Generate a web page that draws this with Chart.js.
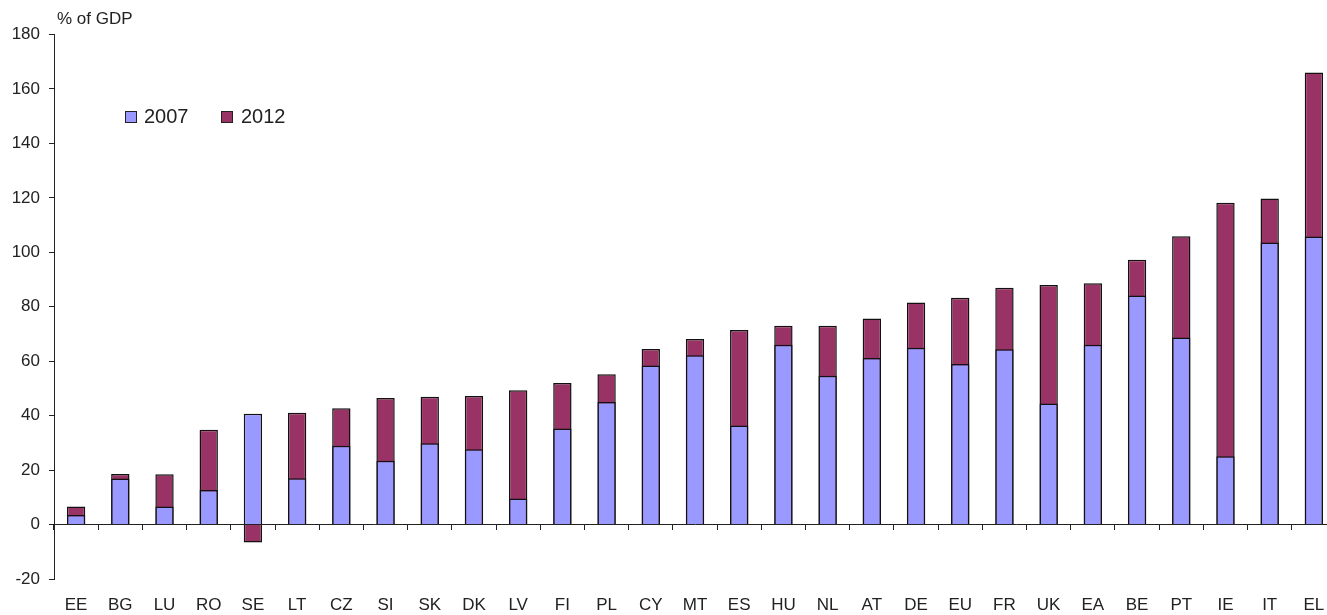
<!DOCTYPE html>
<html>
<head>
<meta charset="utf-8">
<script src="https://cdn.jsdelivr.net/npm/chart.js@4.4.1/dist/chart.umd.min.js"></script>
<style>
    html, body { margin: 0; padding: 0; background: #fff; overflow: hidden; }
    #wrap { position: relative; width: 1336px; height: 615px; }
    .lg-box { position: absolute; width: 10px; height: 10px; border: 1px solid #222; }
    .lg-text { position: absolute; font: 20px "Liberation Sans", Arial, sans-serif; color: #222; line-height: 20px; }
</style>
</head>
<body>
<div id="wrap">
    <canvas id="debtChart"></canvas>
    <div class="lg-box" style="left:125px; top:111px; background:#9999ff;"></div>
    <div class="lg-text" style="left:144px; top:106px;">2007</div>
    <div class="lg-box" style="left:221px; top:111px; background:#993366;"></div>
    <div class="lg-text" style="left:241px; top:106px;">2012</div>
</div>
<script>
// --- DATA ---
const countries = ['EE', 'BG', 'LU', 'RO', 'SE', 'LT', 'CZ', 'SI', 'SK', 'DK', 'LV', 'FI', 'PL', 'CY', 'MT',
    'ES', 'HU', 'NL', 'AT', 'DE', 'EU', 'FR', 'UK', 'EA', 'BE', 'PT', 'IE', 'IT', 'EL'];
const debt2007 = [3.5, 16.9, 6.6, 12.7, 40.7, 17.0, 28.9, 23.4, 29.9, 27.7, 9.6, 35.3, 45.0, 58.4, 62.2,
    36.4, 66.0, 54.7, 61.2, 64.9, 59.0, 64.4, 44.5, 66.0, 84.1, 68.7, 25.1, 103.6, 105.8];
const debt2012 = [6.6, 18.6, 18.5, 34.8, -6.6, 41.1, 42.7, 46.5, 46.9, 47.2, 49.3, 52.0, 55.2, 64.5, 68.2,
    71.5, 73.0, 73.0, 75.7, 81.6, 83.3, 87.0, 88.0, 88.6, 97.3, 105.9, 118.2, 119.8, 166.0];
const yTicks = { min: -20, max: 180, step: 20 };
const unitLabel = '% of GDP';

const FONT = '"Liberation Sans", Arial, sans-serif';
const INK = '#222';

// draws the unit label above the y axis
const unitLabelPlugin = {
    id: 'unitLabel',
    afterDraw(chart) {
        const ctx = chart.ctx;
        ctx.save();
        ctx.font = '17px ' + FONT;
        ctx.fillStyle = INK;
        ctx.textBaseline = 'alphabetic';
        ctx.fillText(unitLabel, chart.chartArea.left + 3, 24);
        ctx.restore();
    }
};

const ctx = document.getElementById('debtChart').getContext('2d');
new Chart(ctx, {
    type: 'bar',
    data: {
        labels: countries,
        datasets: [
            {
                label: '2007', data: debt2007, order: 0,
                backgroundColor: '#9999ff', borderColor: '#111', borderWidth: 1.5,
                grouped: false, barPercentage: 0.415, categoryPercentage: 1
            },
            {
                label: '2012', data: debt2012, order: 1,
                backgroundColor: '#993366', borderColor: '#111', borderWidth: 1.5,
                grouped: false, barPercentage: 0.415, categoryPercentage: 1
            }
        ]
    },
    options: {
        responsive: true,
        maintainAspectRatio: false,
        animation: false,
        layout: { padding: { top: 34.5, left: 0, right: 0, bottom: 0 } },
        plugins: { legend: { display: false }, tooltip: { enabled: false } },
        scales: {
            // zero line with tick marks between categories
            x: {
                type: 'category',
                position: { y: 0 },
                offset: true,
                grid: { offset: true, drawOnChartArea: false, drawTicks: true, tickLength: 5, color: INK },
                border: { display: true, color: INK, width: 1 },
                ticks: { display: false },
                afterFit: (scale) => { scale.height = 0; }
            },
            // labels along the bottom
            x2: {
                type: 'category',
                axis: 'x',
                position: 'bottom',
                labels: countries,
                offset: true,
                grid: { display: false },
                border: { display: false },
                ticks: { color: INK, font: { family: FONT, size: 17 }, padding: 8, maxRotation: 0, autoSkip: false },
                afterFit: (scale) => { scale.height = 36; }
            },
            y: {
                min: yTicks.min,
                max: yTicks.max,
                grid: { drawOnChartArea: false, drawTicks: true, tickLength: 5, color: INK },
                border: { display: true, color: INK, width: 1 },
                ticks: { stepSize: yTicks.step, color: INK, font: { family: FONT, size: 17 }, padding: 9 },
                afterFit: (scale) => { scale.width = 54; }
            }
        }
    },
    plugins: [unitLabelPlugin]
});
</script>
</body>
</html>
